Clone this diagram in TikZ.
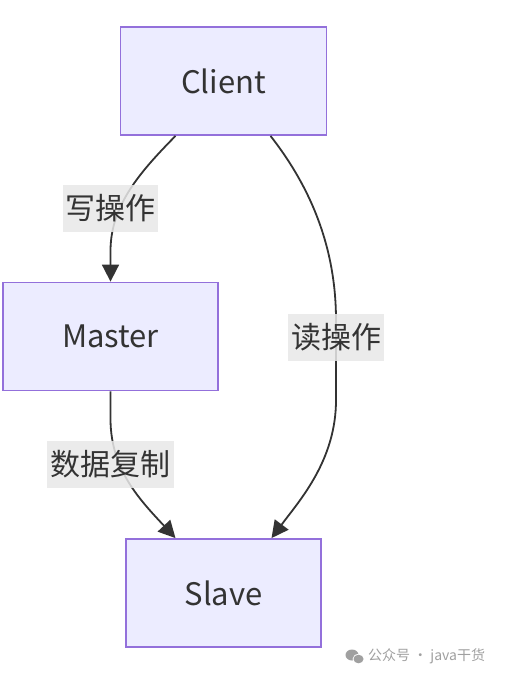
\documentclass[tikz,border=0pt]{standalone}
\usepackage{fontspec}
\setmainfont{Noto Sans CJK SC}
\usetikzlibrary{arrows.meta}
\definecolor{nodefill}{HTML}{ECECFF}
\definecolor{nodeline}{HTML}{9370DB}
\definecolor{txt}{HTML}{333333}
\definecolor{lblbg}{HTML}{E8E8E8}
\definecolor{wm}{HTML}{A0A0A0}
\tikzset{
  box/.style={draw=nodeline, fill=nodefill, line width=1.8pt, text=txt,
    font=\fontsize{31}{36}\selectfont, inner sep=0pt},
  lbl/.style={fill=lblbg, fill opacity=0.85, text opacity=1, text=txt,
    font=\fontsize{30}{34}\selectfont, inner sep=0pt},
  edge/.style={draw=txt, line width=1.8pt,
    -{Triangle[length=17pt,width=17pt]}},
}
\begin{document}
\begin{tikzpicture}[x=1pt,y=-1pt]
\useasboundingbox (0,0) rectangle (504,676);
\fill[white] (0,0) rectangle (504,676);
% nodes
\node[box, minimum width=206pt, minimum height=108pt] (client) at (223.5,81) {Client};
\node[box, minimum width=215pt, minimum height=108pt] (master) at (110.5,336.5) {Master};
\node[box, minimum width=195pt, minimum height=108pt] (slave) at (223.5,593) {Slave};
% edges
\coordinate (c1) at ([xshift=-48pt]client.south);
\coordinate (c2) at ([xshift=47pt]client.south);
\coordinate (s1) at ([xshift=-48pt]slave.north);
\coordinate (s2) at ([xshift=48pt]slave.north);
\draw[edge] (c1) .. controls (140,172) and (111,205) .. (110.5,250) -- (master.north);
\draw[edge] (c2) .. controls (305,180) and (336,240) .. (336,320)
  -- (336,400) .. controls (336,460) and (300,500) .. (s2);
\draw[edge] (master.south) -- (110.5,420) .. controls (111,470) and (140,500) .. (s1);
% labels
\node[lbl, minimum width=95pt, minimum height=47pt] (l1) at (110.5,208.5) {写操作};
\node[lbl, minimum width=96pt, minimum height=47pt] (l2) at (336,337) {读操作};
\node[lbl, minimum width=127pt, minimum height=47pt] (l3) at (110.5,464.5) {数据复制};
% watermark
\fill[wm] (352,655) ellipse (6.5pt and 5.5pt);
\fill[white] (358.5,659) ellipse (6pt and 5pt);
\fill[wm] (358.5,659) ellipse (5pt and 4.3pt);
\node[text=wm, font=\fontsize{14}{16}\selectfont, anchor=west, inner sep=0pt] (wmtext) at (368,656.5) {公众号 · java干货};
\end{tikzpicture}
\end{document}
